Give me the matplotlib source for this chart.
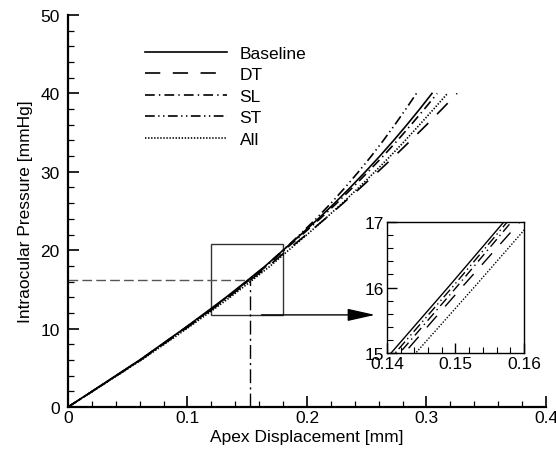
import matplotlib
matplotlib.use("Agg")
import matplotlib.pyplot as plt
from matplotlib.patches import Rectangle
from matplotlib.ticker import MultipleLocator, FuncFormatter

plt.rcParams['font.family'] = ['Liberation Sans', 'DejaVu Sans']
plt.rcParams['lines.scale_dashes'] = False

# ========================
# Data
# ========================
pressure = [0, 2, 4, 6, 8, 10, 12, 14, 16, 18, 20, 22, 24, 26, 28, 30, 32, 34, 36, 38, 40]

baseline = [0, 0.0200, 0.0400, 0.0600, 0.0785, 0.0970, 0.1148, 0.1323, 0.1489, 0.1652, 0.1800,
            0.1949, 0.2093, 0.2231, 0.2362, 0.2488, 0.2609, 0.2725, 0.2836, 0.2943, 0.3046]
dt = [0, 0.0203, 0.0406, 0.0609, 0.0797, 0.0984, 0.1165, 0.1342, 0.1509, 0.1679, 0.1835,
      0.1995, 0.2151, 0.2303, 0.2450, 0.2593, 0.2733, 0.2868, 0.3001, 0.3130, 0.3256]
sl = [0, 0.0205, 0.0405, 0.0605, 0.0790, 0.0975, 0.1158, 0.1336, 0.1501, 0.1662, 0.1810,
      0.1961, 0.2108, 0.2249, 0.2382, 0.2511, 0.2637, 0.2757, 0.2871, 0.2982, 0.3090]
st = [0, 0.0203, 0.0403, 0.0603, 0.0788, 0.0973, 0.1153, 0.1329, 0.1495, 0.1656, 0.1800,
      0.1941, 0.2075, 0.2201, 0.2319, 0.2431, 0.2538, 0.2639, 0.2735, 0.2827, 0.2916]
all_ = [0, 0.0205, 0.0410, 0.0615, 0.0805, 0.0995, 0.1178, 0.1357, 0.1527, 0.1694, 0.1846,
        0.2001, 0.2151, 0.2296, 0.2434, 0.2568, 0.2697, 0.2822, 0.2942, 0.3060, 0.3176]

labels = ['Baseline', 'DT', 'SL', 'ST', 'All']
series = [baseline, dt, sl, st, all_]
styles = ['-', (0, (11, 9)), (0, (7, 3, 1, 3)), (0, (7, 2.5, 1, 2.5, 1, 2.5)), (0, (1, 1.2))]

# marked point and zoom box
mark_x, mark_y = 0.152, 16.2
box_x, box_y, box_w, box_h = 0.12, 11.75, 0.06, 9.1

FS = 12.5

# ========================
# Main axes
# ========================
fig = plt.figure(figsize=(5.56, 4.52), dpi=100)
ax = fig.add_axes([0.1223, 0.0973, 0.8597, 0.8673])

for xs, lab, ls in zip(series, labels, styles):
    ax.plot(xs, pressure, color='black', linestyle=ls, linewidth=1.2, label=lab)

ax.set_xlim(0, 0.4)
ax.set_ylim(0, 50)
ax.xaxis.set_major_locator(MultipleLocator(0.1))
ax.xaxis.set_minor_locator(MultipleLocator(0.02))
ax.yaxis.set_major_locator(MultipleLocator(10))
ax.yaxis.set_minor_locator(MultipleLocator(2))
ax.xaxis.set_major_formatter(FuncFormatter(lambda v, p: '0' if abs(v) < 1e-9 else f'{v:g}'))
ax.tick_params(which='both', direction='in', top=False, right=False, labelsize=FS)
ax.tick_params(which='major', length=8, width=1.2)
ax.tick_params(which='minor', length=4.5, width=0.9)
ax.tick_params(axis='x', which='major', pad=2)
ax.tick_params(axis='y', which='major', pad=6)
ax.spines['top'].set_visible(False)
ax.spines['right'].set_visible(False)
ax.spines['left'].set_linewidth(1.6)
ax.spines['bottom'].set_linewidth(1.6)
ax.set_xlabel('Apex Displacement [mm]', fontsize=FS, labelpad=3)
ax.set_ylabel('Intraocular Pressure [mmHg]', fontsize=FS, labelpad=5)

ax.legend(loc='upper left', bbox_to_anchor=(0.161, 0.922), frameon=False, fontsize=FS,
          handlelength=4.7, handletextpad=0.75, labelspacing=0.37, borderpad=0, borderaxespad=0)

# guide lines to the marked point
ax.plot([0, mark_x], [mark_y, mark_y], color='#555555', linewidth=1.0, linestyle=(0, (7, 3)))
ax.plot([mark_x, mark_x], [0, mark_y], color='black', linewidth=1.0, linestyle=(0, (10, 3, 1.5, 3)))

# zoom box and arrow
ax.add_patch(Rectangle((box_x, box_y), box_w, box_h, fill=False, edgecolor='#333333', linewidth=1.0))
ax.annotate('', xy=(0.257, box_y), xytext=(0.162, box_y),
            arrowprops=dict(arrowstyle='-|>,head_length=1.7,head_width=0.38', mutation_scale=10,
                            color='black', linewidth=1.0, shrinkA=0, shrinkB=0))

# ========================
# Inset
# ========================
axin = fig.add_axes([0.696, 0.2168, 0.2464, 0.2898])
for xs, ls in zip(series, styles):
    axin.plot(xs, pressure, color='black', linestyle=ls, linewidth=1.0)
axin.set_xlim(0.14, 0.16)
axin.set_ylim(15, 17)
axin.xaxis.set_major_locator(MultipleLocator(0.01))
axin.xaxis.set_minor_locator(MultipleLocator(0.002))
axin.yaxis.set_major_locator(MultipleLocator(1))
axin.yaxis.set_minor_locator(MultipleLocator(0.2))
axin.tick_params(which='both', direction='in', top=False, right=False, labelsize=FS, pad=2)
axin.tick_params(which='major', length=7, width=1.0)
axin.tick_params(which='minor', length=4, width=0.8)
for sp in axin.spines.values():
    sp.set_linewidth(1.0)

fig.savefig('out.png', dpi=100)
